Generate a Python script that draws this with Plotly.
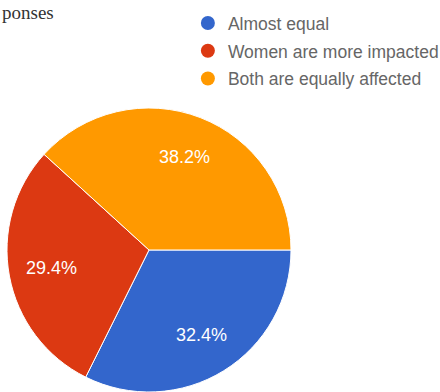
import math
import plotly.graph_objects as go

# Survey answers and their response counts (34 responses in total)
labels = ["Almost equal", "Women are more impacted", "Both are equally affected"]
counts = [11, 10, 13]
colors = ["#3366CC", "#DC3912", "#FF9900"]

W, H = 440, 392
pie_x = [0.0159, 0.6614]
pie_y = [0.0, 0.7245]
start_deg = 90          # first slice starts at 3 o'clock, going clockwise

fig = go.Figure()

fig.add_trace(go.Pie(
    labels=labels,
    values=counts,
    sort=False,
    direction="clockwise",
    rotation=start_deg,
    marker=dict(colors=colors, line=dict(color="white", width=1)),
    textinfo="none",
    showlegend=False,
    hoverinfo="label+percent",
    domain=dict(x=pie_x, y=pie_y),
))

# Percentage labels placed along each slice's bisector
cx = (pie_x[0] + pie_x[1]) / 2 * W
cy = (1 - (pie_y[0] + pie_y[1]) / 2) * H
radius = min((pie_x[1] - pie_x[0]) * W, (pie_y[1] - pie_y[0]) * H) / 2
label_r = 0.70 * radius
total = sum(counts)
annotations = []
acc = 0
for c in counts:
    mid = math.radians(start_deg + (acc + c / 2) / total * 360)
    acc += c
    px = cx + label_r * math.sin(mid)
    py = cy - label_r * math.cos(mid)
    annotations.append(dict(
        text=f"{c / total * 100:.1f}%", x=px / W, y=1 - py / H,
        xref="paper", yref="paper", xanchor="center", yanchor="middle",
        showarrow=False,
        font=dict(family="Liberation Sans, Arial, sans-serif", size=18, color="white"),
    ))

annotations.append(dict(
    text="ponses", x=0, y=1.0, xref="paper", yref="paper",
    xanchor="left", yanchor="top", showarrow=False,
    font=dict(family="Liberation Serif, Times New Roman, serif", size=19, color="#333333"),
))

# Round legend markers, one entry per answer
for name, col in zip(labels, colors):
    fig.add_trace(go.Scatter(
        x=[None], y=[None], mode="markers", name=name, legendgroup=name,
        marker=dict(symbol="circle", size=14, color=col),
        showlegend=True, hoverinfo="skip",
    ))

fig.update_layout(
    width=W,
    height=H,
    margin=dict(l=0, r=0, t=0, b=0, autoexpand=False),
    paper_bgcolor="white",
    plot_bgcolor="white",
    xaxis=dict(visible=False),
    yaxis=dict(visible=False),
    legend=dict(
        x=0.427, y=0.987, xanchor="left", yanchor="top",
        font=dict(family="Liberation Sans, Arial, sans-serif", size=17.5, color="#666666"),
        traceorder="grouped", tracegroupgap=2, itemwidth=30,
        bgcolor="rgba(0,0,0,0)",
    ),
    annotations=annotations,
)

fig.write_html("out.html")
